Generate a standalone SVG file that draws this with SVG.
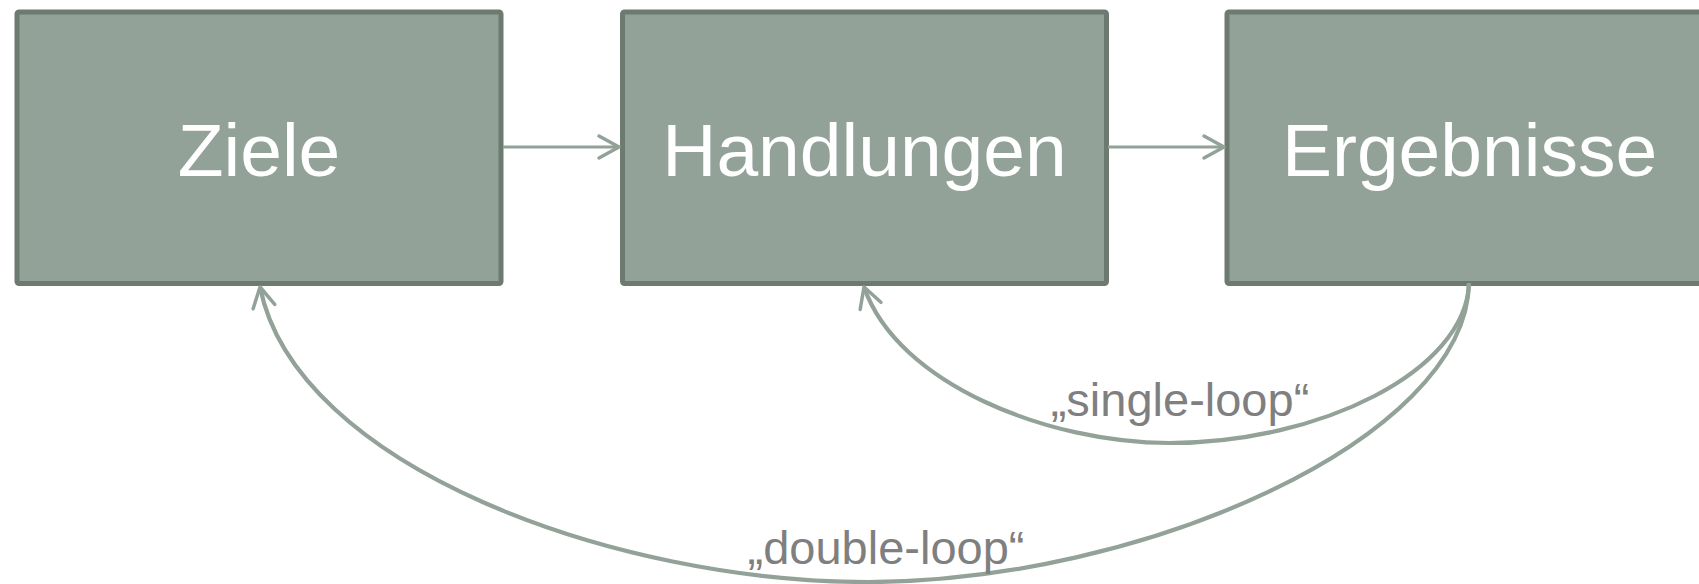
<svg xmlns="http://www.w3.org/2000/svg" width="1699" height="584" viewBox="0 0 1699 584">
<style>
.box{fill:#92a298;stroke:#6d7a70;stroke-width:5;}
.lbl{font-family:"Liberation Sans",Arial,sans-serif;font-size:75px;fill:#ffffff;text-anchor:middle;}
.cap{font-family:"Liberation Sans",Arial,sans-serif;font-size:47px;fill:#7f7f7f;text-anchor:middle;}
.con{fill:none;stroke:#92a298;stroke-linecap:butt;}
</style>
<defs>
<marker id="arr" markerUnits="userSpaceOnUse" viewBox="-24 -14 28 28" refX="0" refY="0" markerWidth="28" markerHeight="28" orient="auto">
<path d="M-20,-11 L0,0 L-20,11" fill="none" stroke="#92a298" stroke-width="3.5" stroke-linecap="round" stroke-linejoin="round"/>
</marker>
</defs>
<g id="node-ziele">
<rect class="box" x="17" y="12" width="484" height="271.5" rx="2"/>
<text class="lbl" x="259" y="176">Ziele</text>
</g>
<g id="node-handlungen">
<rect class="box" x="622.5" y="12" width="484" height="271.5" rx="2"/>
<text class="lbl" x="864.5" y="176">Handlungen</text>
</g>
<g id="node-ergebnisse">
<rect class="box" x="1227" y="12" width="485" height="271.5" rx="2"/>
<text class="lbl" x="1469.5" y="176">Ergebnisse</text>
</g>
<g id="connectors">
<path class="con" stroke-width="3" d="M503,147 L619,147" marker-end="url(#arr)"/>
<path class="con" stroke-width="3" d="M1108,147 L1224,147" marker-end="url(#arr)"/>
<path class="con" stroke-width="4.2" d="M1469,283 C1466,371 1320,443 1169,443 C1050,443 898,385 864,287" marker-end="url(#arr)"/>
<path class="con" stroke-width="4.2" d="M1469,283 C1466,440 1140,582 868,582 C615,582 296,467 260,287" marker-end="url(#arr)"/>
<text class="cap" x="1180" y="416">„single-loop“</text>
<text class="cap" x="886" y="564">„double-loop“</text>
</g>
</svg>
